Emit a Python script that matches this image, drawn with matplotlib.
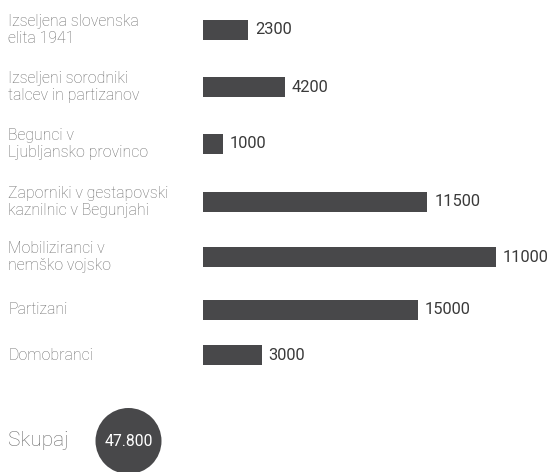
import matplotlib
matplotlib.use("Agg")
import matplotlib.pyplot as plt
from matplotlib.patches import Circle

# ---- data ----
categories = [
    "Izseljena slovenska\nelita 1941",
    "Izseljeni sorodniki\ntalcev in partizanov",
    "Begunci v\nLjubljansko provinco",
    "Zaporniki v gestapovski\nkaznilnic v Begunjahi",
    "Mobiliziranci v\nnemško vojsko",
    "Partizani",
    "Domobranci",
]
bar_values = [2300, 4200, 1000, 11500, 15000, 11000, 3000]   # bar lengths as drawn
value_labels = ["2300", "4200", "1000", "11500", "11000", "15000", "3000"]  # printed labels
total_title = "Skupaj"
total_label = "47.800"

# ---- layout ----
W, H = 549, 472
row_centers = [30, 87, 144, 202, 257, 310, 355]
bar_left_px = 203
px_per_unit = 19.5 / 1000.0
bar_height_px = 20
bar_color = "#48484a"
label_color = "#6a6a6a"
value_color = "#3a3a3a"

fig = plt.figure(figsize=(W / 100, H / 100), dpi=100)

# overlay axes in pixel coordinates
ax0 = fig.add_axes([0, 0, 1, 1])
ax0.set_xlim(0, W)
ax0.set_ylim(H, 0)
ax0.axis("off")

# bar axes: x in data units
ax = fig.add_axes([bar_left_px / W, 0, (W - bar_left_px) / W, 1])
ax.set_xlim(0, (W - bar_left_px) / px_per_unit)
ax.set_ylim(H, 0)
ax.axis("off")

ax.barh(row_centers, bar_values, height=bar_height_px, color=bar_color, linewidth=0)

for y, v, lab in zip(row_centers, bar_values, value_labels):
    ax.annotate(lab, xy=(v, y), xytext=(7, 0), textcoords="offset pixels",
                va="center", ha="left", fontsize=11.8, color=value_color,
                family="Roboto")

for y, cat in zip(row_centers, categories):
    ax0.text(8, y, cat, va="center", ha="left", fontsize=11.4, color=label_color,
             family="Roboto", fontweight="light", linespacing=1.12)

# total
ax0.text(8, 441, total_title, va="center", ha="left", fontsize=15,
         color=label_color, family="Roboto", fontweight="light")
ax0.add_patch(Circle((128.5, 441), 33, color=bar_color, linewidth=0))
ax0.text(128.5, 441, total_label, va="center", ha="center", fontsize=11.3,
         color="white", family="Roboto")

fig.savefig("out.png", dpi=100)
